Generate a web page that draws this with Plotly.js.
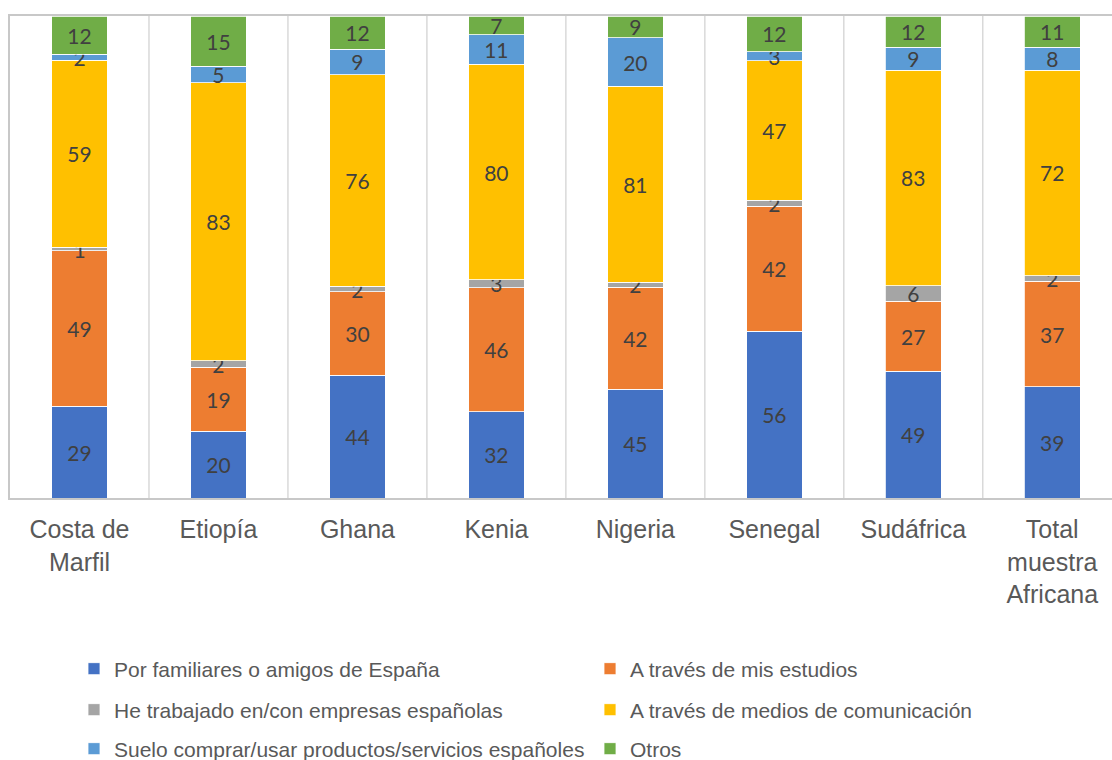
<!DOCTYPE html>
<html>
<head>
<meta charset="utf-8">
<script src="https://cdn.plot.ly/plotly-3.0.1.min.js"></script>
<style>html,body{margin:0;padding:0;background:#fff;}#chart{width:1112px;height:760px;}</style>
</head>
<body>
<div id="chart"></div>
<script>
const categories = ["Costa de<br>Marfil", "Etiopía", "Ghana", "Kenia", "Nigeria", "Senegal", "Sudáfrica", "Total<br>muestra<br>Africana"];
const seriesNames = [
  "Por familiares o amigos de España",
  "A través de mis estudios",
  "He trabajado en/con empresas españolas",
  "A través de medios de comunicación",
  "Suelo comprar/usar productos/servicios españoles",
  "Otros"
];
const familiares = [29, 20, 44, 32, 45, 56, 49, 39];
const estudios   = [49, 19, 30, 46, 42, 42, 27, 37];
const trabajado  = [1, 2, 2, 3, 2, 2, 6, 2];
const medios     = [59, 83, 76, 80, 81, 47, 83, 72];
const productos  = [2, 5, 9, 11, 20, 3, 9, 8];
const otros      = [12, 15, 12, 7, 9, 12, 12, 11];
const colors = ["#4472C4", "#ED7D31", "#A5A5A5", "#FFC000", "#5B9BD5", "#70AD47"];

const allSeries = [familiares, estudios, trabajado, medios, productos, otros];
const legendIds = ["legend", "legend2", "legend3", "legend4", "legend5", "legend6"];

const traces = allSeries.map((vals, i) => ({
  type: "bar",
  name: seriesNames[i],
  x: categories,
  y: vals,
  text: vals.map(String),
  texttemplate: "%{text}",
  textposition: "inside",
  insidetextanchor: "middle",
  constraintext: "none",
  textangle: 0,
  textfont: {family: "Lato, 'Open Sans', sans-serif", size: 21, color: "#404040"},
  marker: {color: colors[i], line: {color: "#ffffff", width: 0.8}},
  width: 0.4,
  legend: legendIds[i],
  showlegend: true
}));

const shapes = [];
for (let i = 0; i < categories.length - 1; i++) {
  shapes.push({type: "line", xref: "x", yref: "paper", x0: i + 0.5, x1: i + 0.5, y0: 0, y1: 1,
    line: {color: "#d9d9d9", width: 1.5}, layer: "below"});
}

function legendAt(px, py) {
  return {
    orientation: "h", xref: "container", yref: "container",
    xanchor: "left", yanchor: "middle", x: px / 1112, y: (760 - py) / 760,
    font: {family: "'Liberation Sans', Arial, sans-serif", size: 21, color: "#595959"},
    bgcolor: "rgba(0,0,0,0)", itemclick: false
  };
}

const layout = {
  width: 1112, height: 760,
  margin: {l: 10, r: 0, t: 16, b: 262},
  paper_bgcolor: "#ffffff", plot_bgcolor: "#ffffff",
  barmode: "stack", barnorm: "percent",
  showlegend: true,
  xaxis: {
    type: "category", range: [-0.5, 7.43], automargin: false,
    showgrid: false, showline: true, linecolor: "#c8c8c8", linewidth: 2, mirror: true,
    ticks: "", ticklabelstandoff: 8,
    tickfont: {family: "'Liberation Sans', Arial, sans-serif", size: 25, color: "#595959"},
    fixedrange: true
  },
  yaxis: {
    range: [0, 100], showgrid: false, zeroline: false, showticklabels: false, ticks: "",
    showline: true, linecolor: "#c8c8c8", linewidth: 2, fixedrange: true, automargin: false
  },
  shapes: shapes,
  legend: legendAt(74, 669),
  legend2: legendAt(590, 669),
  legend3: legendAt(74, 710),
  legend4: legendAt(590, 710),
  legend5: legendAt(74, 749),
  legend6: legendAt(590, 749)
};

Plotly.newPlot("chart", traces, layout, {displayModeBar: false, staticPlot: true});
</script>
</body>
</html>
